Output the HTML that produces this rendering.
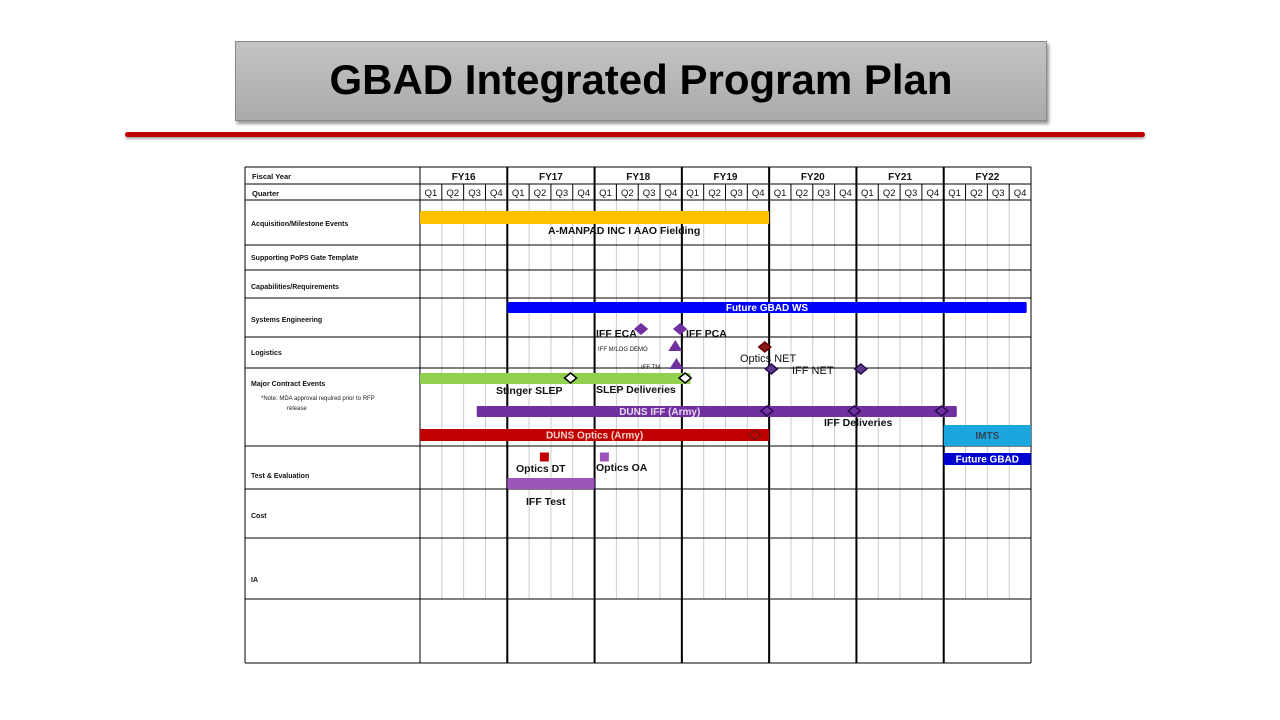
<!DOCTYPE html>
<html><head><meta charset="utf-8"><style>
body{margin:0;width:1280px;height:720px;background:#fff;position:relative;overflow:hidden;font-family:"Liberation Sans",Arial,sans-serif}
.a{position:absolute}
</style></head><body>
<div class="a" style="left:235px;top:41px;width:810px;height:78px;background:linear-gradient(#c4c4c4,#aaaaaa);border:1px solid #888;box-shadow:2px 3px 3px #999"></div>
<div class="a" style="left:235px;top:56px;width:812px;text-align:center;font-size:42px;font-weight:bold;color:#000">GBAD Integrated Program Plan</div>
<div class="a" style="left:125px;top:132px;width:1020px;height:5px;background:#c00000;border-radius:3px;box-shadow:0 2px 2px #aaa"></div>
<svg id="g" class="a" style="left:0;top:0" width="1280" height="720"></svg>
<script>
const years=["FY16","FY17","FY18","FY19","FY20","FY21","FY22"];
const quarters=["Q1","Q2","Q3","Q4"];
const rowNames=["Acquisition/Milestone Events","Supporting  PoPS Gate Template","Capabilities/Requirements","Systems Engineering","Logistics","Major  Contract Events","Test & Evaluation","Cost","IA",""];
const rowBottoms=[245,270,298,337,368,446,489,538,599,663];
const rowLabelY=[226,260,289,322,355,386,478,518,582,0];
const barNames=["acquisition-bar","future-gbad-ws-bar","stinger-slep-bar","duns-iff-bar","duns-optics-bar","imts-bar","future-gbad-bar","iff-test-bar"];
const barStart=[0,4,0,2.6,0,24,24,4];
const barEnd=[16,27.8,12.4,24.6,16,28,28,8];
const barTop=[211,302,373,406,429,425,453,478];
const barH=[13,11,11,11,12,21,12,11];
const barColor=["#ffc000","#0000ff","#92d050","#7030a0","#c00000","#1ba6dd","#0000d0","#9e55bb"];
const barText=["","Future  GBAD WS","","DUNS IFF (Army)","DUNS Optics (Army)","IMTS","Future GBAD",""];
const barTextOffset=[0,0,0,-57,0,0,0,0];
const barTextColor=["","#fff","","#e8d8f0","#f4d0d0","#345","#fff",""];
const msQ=[6.9,12.15,15.9,19.9,23.9,15.35,10.13,11.92,15.8,16.1,20.2,11.7,11.75];
const msY=[378,378,411,411,411,435,329,329,347,369,369,346,364];
const msType=["d","d","d","d","d","d","d","d","d","d","d","t","t"];
const msFill=["#fff","#fff","#7030a0","#7030a0","#7030a0","#c00000","#7030a0","#7030a0","#8b1a1a","#5b3a8a","#5b3a8a","#7030a0","#7030a0"];
const msStroke=["#000","#000","#2a0a50","#2a0a50","#2a0a50","#7a1010","#7030a0","#7030a0","#600","#2a0a50","#2a0a50","#7030a0","#7030a0"];
const sqQ=[5.7,8.45];const sqY=[457,457];const sqColor=["#c00000","#9e55bb"];
const texts=[["A-MANPAD INC I AAO  Fielding",548,224,10.5,"bold"],["Stinger SLEP",496,384,10.5,"bold"],["SLEP Deliveries",596,383,10.5,"bold"],["IFF ECA",596,327,10.5,"bold"],["IFF PCA",686,327,10.5,"bold"],["IFF M/LOG DEMO",598,341,6,"normal"],["IFF TM",641,359,6,"normal"],["Optics NET",740,352,11,"normal"],["IFF NET",792,364,11,"normal"],["IFF Deliveries",824,416,10.5,"bold"],["Optics DT",516,462,10.5,"bold"],["Optics OA",596,461,10.5,"bold"],["IFF Test",526,495,10.5,"bold"]];
const X0=420,QW=(1031-420)/28;
const x=q=>X0+q*QW;
const svg=document.getElementById('g');const NS="http://www.w3.org/2000/svg";
function mk(tag,at){const e=document.createElementNS(NS,tag);for(const k in at)e.setAttribute(k,at[k]);svg.appendChild(e);return e;}
for(let q=1;q<28;q++){if(q%4==0)continue;const l=mk('line',{x1:x(q),x2:x(q),y1:200,y2:599,stroke:'#ccc','stroke-width':1});


const h=mk('line',{x1:x(q),x2:x(q),y1:184,y2:200,stroke:'#000','stroke-width':1});

}
[167,184,200].concat(rowBottoms).forEach(y=>{const l=mk('line',{x1:245,x2:1031,y1:y,y2:y,stroke:'#000','stroke-width':1});

});
mk('line',{x1:245,x2:245,y1:167,y2:663,stroke:'#000'});
mk('line',{x1:420,x2:420,y1:167,y2:663,stroke:'#000'});
for(let y=1;y<=7;y++){const l=mk('line',{x1:x(y*4),x2:x(y*4),y1:167,y2:663,stroke:'#000','stroke-width':y==7?1:2});

}
function txt(s,xx,yy,size,w,fill,anchor){const t=mk('text',{x:xx,y:yy,'font-size':size,'font-weight':w,fill:fill,'text-anchor':anchor||'start','font-family':'Liberation Sans, Arial, sans-serif'});t.textContent=s;return t;}
years.forEach((s,i)=>{const t=txt(s,x(i*4+2),180,10,'bold','#111','middle');


quarters.forEach((qq,j)=>{const u=txt(qq,x(i*4+j+0.5),196,9.5,'normal','#111','middle');

});});
let t=txt("Fiscal Year",252,179,7.5,'bold','#111');


t=txt("Quarter",252,196,7.5,'bold','#111');


rowNames.forEach((s,i)=>{if(!s)return;const u=txt(s,251,rowLabelY[i],7,'bold','#111');

});
t=txt("*Note: MDA approval required prior to RFP",261,400,6,'normal','#222');


t=txt("release",287,410,6,'normal','#222');


barNames.forEach((n,i)=>{const r=mk('rect',{x:x(barStart[i]),y:barTop[i],width:x(barEnd[i])-x(barStart[i]),height:barH[i],fill:barColor[i],rx:1});


if(barText[i]){const u=txt(barText[i],(x(barStart[i])+x(barEnd[i]))/2+barTextOffset[i],barTop[i]+barH[i]/2+3.5,10,'bold',barTextColor[i],'middle');

}});
msQ.forEach((q,i)=>{const cx=x(q),cy=msY[i];let p;
if(msType[i]=='d')p=mk('polygon',{points:`${cx-6},${cy} ${cx},${cy-5} ${cx+6},${cy} ${cx},${cy+5}`,fill:msFill[i],stroke:msStroke[i],'stroke-width':1.5});
else p=mk('polygon',{points:`${cx-7},${cy+5} ${cx},${cy-6} ${cx+7},${cy+5}`,fill:msFill[i]});

});
sqQ.forEach((q,i)=>{const r=mk('rect',{x:x(q)-4.5,y:sqY[i]-4.5,width:9,height:9,fill:sqColor[i]});

});
texts.forEach(a=>{const u=txt(a[0],a[1],a[2]+10,a[3],a[4],'#111');

});
</script>
</body></html>
